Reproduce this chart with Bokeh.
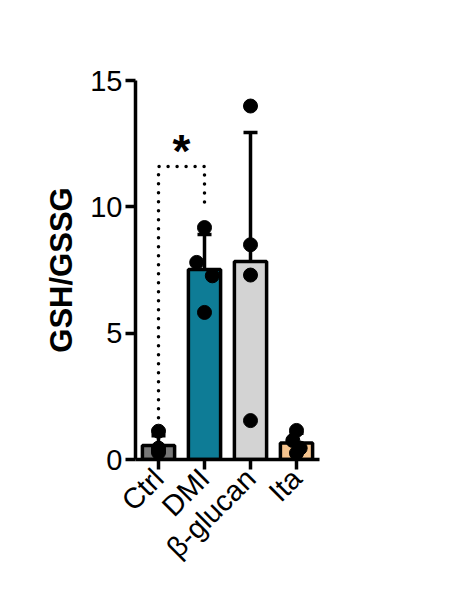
import math
import numpy as np
from bokeh.plotting import figure
from bokeh.models import FactorRange, Range1d, FixedTicker, ColumnDataSource, Whisker, TeeHead
from bokeh.core.properties import value
from bokeh.embed import file_html
from bokeh.resources import INLINE

# ---- data ----
categories = ["Ctrl", "DMI", "β-glucan", "Ita"]
ctrl = [1.12, 0.45, 0.35, 0.28]
dmi = [9.18, 7.80, 7.27, 5.82]
bglucan = [13.99, 8.50, 7.30, 1.54]
ita = [1.15, 0.75, 0.45, 0.25]
y_ticks = [0, 5, 10, 15]
bar_colors = ["#777777", "#0e7c96", "#d3d3d3", "#f6c48e"]
sig_label = "*"

groups = [ctrl, dmi, bglucan, ita]
means = [float(np.mean(g)) for g in groups]
sds = [float(np.std(g, ddof=1)) for g in groups]

# ---- figure ----
p = figure(width=454, height=584, x_range=FactorRange(*categories),
           y_range=Range1d(0, 15), output_backend="svg", toolbar_location=None,
           min_border_left=135, min_border_top=80, min_border_bottom=125,
           min_border_right=135)
p.outline_line_color = None
p.xgrid.visible = False
p.ygrid.visible = False
p.background_fill_color = "white"

# bars
p.vbar(x=categories, top=means, width=0.7, fill_color=bar_colors,
       line_color="black", line_width=3.5)

# error bars (mean ± SD)
src = ColumnDataSource(dict(x=categories,
                            upper=[m + s for m, s in zip(means, sds)],
                            lower=[m - s for m, s in zip(means, sds)]))
w = Whisker(base="x", upper="upper", lower="lower", source=src,
            line_width=3.5, line_color="black",
            upper_head=TeeHead(size=14, line_width=3.5, line_color="black"),
            lower_head=TeeHead(size=14, line_width=3.5, line_color="black"))
p.add_layout(w)

# points (small horizontal jitter like the original scatter)
jitter = [[0.0, 0.0, 0.0, 0.0],
          [0.0, -0.17, 0.17, 0.0],
          [0.0, 0.0, 0.0, 0.0],
          [0.0, -0.08, 0.08, 0.0]]
px, py = [], []
for cat, g, jit in zip(categories, groups, jitter):
    for v, j in zip(g, jit):
        px.append((cat, j))
        py.append(v)
p.scatter(x=px, y=py, size=14, fill_color="black", line_color="black")

# significance bracket
bx = [("Ctrl", 0.0), ("Ctrl", 0.0), ("DMI", 0.0), ("DMI", 0.0)]
by = [1.65, 11.6, 11.6, 10.0]
p.line(x=bx, y=by, line_color="black", line_width=3.5, line_dash="0 9",
       line_cap="round")
p.text(x=[("DMI", -0.5)], y=[12.2], text=[sig_label], text_align="center",
       text_baseline="alphabetic", text_font=value("Liberation Sans"),
       text_font_style="bold", text_font_size="46px", text_color="black")

# axes
p.yaxis.ticker = FixedTicker(ticks=y_ticks)
p.yaxis.minor_tick_line_color = None
p.yaxis.axis_label = "GSH/GSSG"
p.yaxis.axis_label_text_font = "Liberation Sans"
p.yaxis.axis_label_text_font_style = "bold"
p.yaxis.axis_label_text_font_size = "31px"
p.yaxis.axis_label_text_color = "black"
p.yaxis.axis_label_standoff = 8
for ax in (p.xaxis[0], p.yaxis[0]):
    ax.axis_line_width = 3.5
    ax.axis_line_color = "black"
    ax.major_tick_line_width = 3.5
    ax.major_tick_line_color = "black"
    ax.major_tick_in = 0
    ax.major_tick_out = 10
    ax.major_label_text_font = "Liberation Sans"
    ax.major_label_text_color = "black"
p.yaxis.major_label_text_font_size = "29px"
p.yaxis.major_label_standoff = 3
p.xaxis.major_label_text_font_size = "29px"
p.xaxis.major_label_orientation = math.pi / 4
p.xaxis.major_label_standoff = 4

open("out.html", "w").write(file_html(p, INLINE))
